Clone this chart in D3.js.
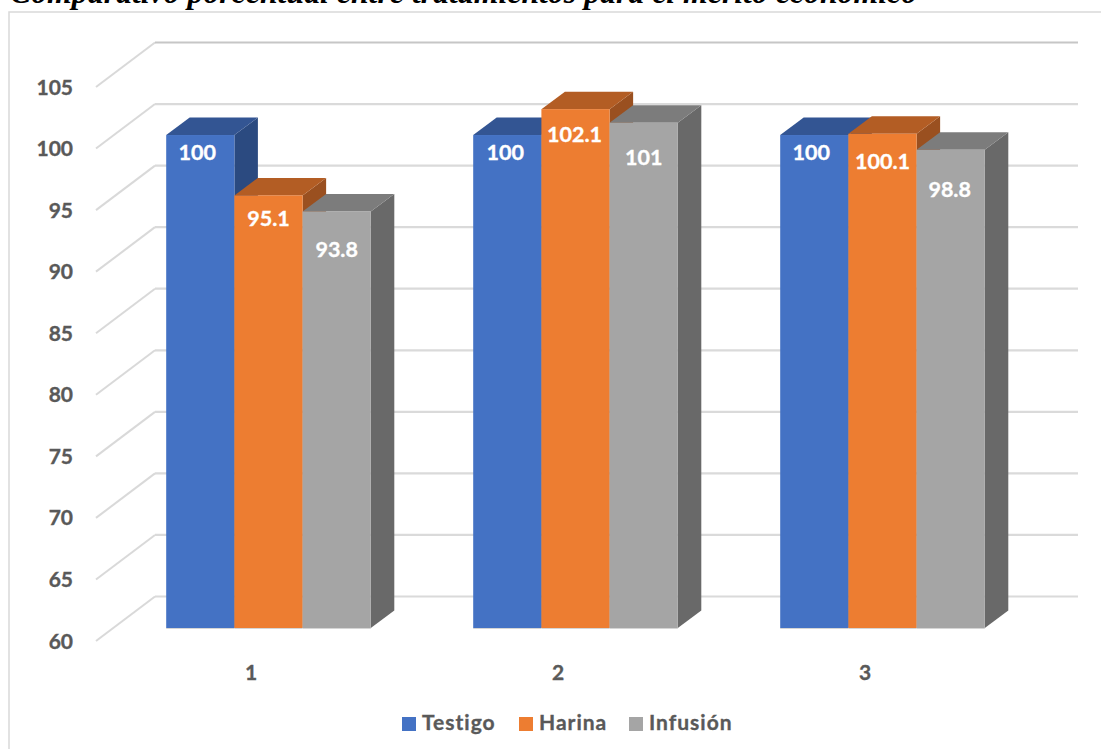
<!DOCTYPE html>
<html><head><meta charset="utf-8">
<script src="https://cdn.jsdelivr.net/npm/d3@7/dist/d3.min.js"></script>
<style>html,body{margin:0;padding:0;background:#fff}svg{display:block}</style>
</head><body><svg id="c" width="1101" height="749"></svg>
<script>
const categories = ["1","2","3"];
const seriesNames = ["Testigo","Harina","Infusión"];
const testigo = [100,100,100];
const harina = [95.1,102.1,100.1];
const infusion = [93.8,101,98.8];
const valueLabels = [["100","95.1","93.8"],["100","102.1","101"],["100","100.1","98.8"]];
const yTicks = [60,65,70,75,80,85,90,95,100,105];
const titleText = "Comparativo porcentual entre tratamientos para el mérito económico";

// styling and layout (not data)
const faceColors = ["#4472c4","#ed7d31","#a5a5a5"];
const topColors = ["#335593","#b35d24","#7c7c7c"];
const sideColors = ["#2b4a80","#9a5020","#696969"];
const labelDy = [[25,31,46],[25,33,42],[25,35,47]];
const labelDx = [[-3,0,0],[-2,-1,0],[-3,0,-1]];

const svg = d3.select("#c");
const fontUI = "Lato, 'Open Sans', sans-serif";
const series = [testigo,harina,infusion];

function heavy(sel,color){ return sel.attr("stroke",color).attr("stroke-width",0.35).attr("font-family",fontUI).attr("font-weight",700); }

svg.append("rect").attr("x",9).attr("y",12).attr("width",1110).attr("height",760)
  .attr("fill","#fff").attr("stroke","#d9d9d9").attr("stroke-width",1.5);
svg.append("text").attr("x",10).attr("y",2.5).attr("font-family","'Liberation Serif',serif")
  .attr("font-size",31.8).attr("font-weight","bold").attr("font-style","italic").attr("fill","#000").text(titleText);

const yBack = d3.scaleLinear().domain([60,105]).range([596.5,42.5]);
const yFront = d3.scaleLinear().domain([60,105]).range([641,87]);
const yBar = d3.scaleLinear().domain([60,105]).range([628,73.4]);
const x0 = d3.scaleBand().domain(categories).range([97.5,1018.5]);
const x1 = d3.scaleBand().domain(seriesNames).range([68.7,273.3]);
const depthX = 23.5, depthY = 17.5;
const gridLeft = 96, gridBack = 155, gridRight = 1078;

yTicks.forEach(t=>{
  svg.append("line").attr("x1",gridLeft).attr("y1",yFront(t)).attr("x2",gridBack).attr("y2",yBack(t))
    .attr("stroke","#d9d9d9").attr("stroke-width",2);
  svg.append("line").attr("x1",gridBack).attr("y1",yBack(t)).attr("x2",gridRight).attr("y2",yBack(t))
    .attr("stroke",t===105?"#c6c6c6":"#dadada").attr("stroke-width",2.2);
  heavy(svg.append("text"),"#595959").attr("x",73).attr("y",yFront(t)+7.5).attr("text-anchor","end")
    .attr("font-size",21).attr("fill","#595959").text(t);
});

categories.forEach((c,i)=>{
  seriesNames.forEach((s,j)=>{
    const v = series[j][i];
    const x = x0(c)+x1(s), w = x1.bandwidth(), y = yBar(v), b = yBar(60);
    const g = svg.append("g");
    g.append("path").attr("d",`M${x+w},${y}L${x+w+depthX},${y-depthY}L${x+w+depthX},${b-depthY}L${x+w},${b}Z`).attr("fill",sideColors[j]);
    g.append("path").attr("d",`M${x},${y}L${x+depthX},${y-depthY}L${x+w+depthX},${y-depthY}L${x+w},${y}Z`).attr("fill",topColors[j]);
    g.append("rect").attr("x",x).attr("y",y).attr("width",w).attr("height",b-y).attr("fill",faceColors[j]);
    g.append("line").attr("x1",x).attr("x2",x+w).attr("y1",b+0.5).attr("y2",b+0.5).attr("stroke","#d5d5d5").attr("stroke-width",1.2);
  });
  seriesNames.forEach((s,j)=>{
    const x = x0(c)+x1(s), w = x1.bandwidth(), y = yBar(series[j][i]);
    heavy(svg.append("text"),"#fff").attr("x",x+w/2+labelDx[i][j]).attr("y",y+labelDy[i][j]).attr("text-anchor","middle")
      .attr("font-size",21.5).attr("fill","#fff").text(valueLabels[i][j]);
  });
  heavy(svg.append("text"),"#595959").attr("x",x0(c)+x0.bandwidth()/2).attr("y",680).attr("text-anchor","middle")
    .attr("font-size",21).attr("fill","#595959").text(c);
});

const legendX = [402,519,629];
seriesNames.forEach((s,j)=>{
  svg.append("rect").attr("x",legendX[j]).attr("y",717).attr("width",14).attr("height",14).attr("fill",faceColors[j]);
  heavy(svg.append("text"),"#595959").attr("x",legendX[j]+20).attr("y",730)
    .attr("font-size",21).attr("letter-spacing",1).attr("fill","#595959").text(s);
});
</script></body></html>
